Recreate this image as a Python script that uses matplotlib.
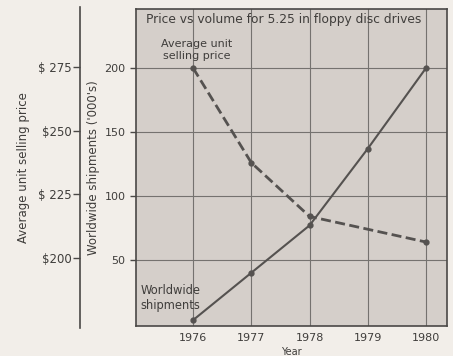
import matplotlib
matplotlib.use("Agg")
import matplotlib.pyplot as plt

years = [1976, 1977, 1978, 1979, 1980]
shipments = [3, 40, 77, 137, 200]          # thousands of units
price = [275, 238, 217, 212, 207]          # average unit selling price, $

ship_ticks = [50, 100, 150, 200]
price_ticks = [200, 225, 250, 275]
price_labels = ["$200", "$ 225", "$250", "$ 275"]

W, H = 453, 356
fig = plt.figure(figsize=(W / 100, H / 100), dpi=100)
fig.patch.set_facecolor("#f2eee9")

ink = "#555250"
txt = "#3f3d3b"
plt.rcParams["font.family"] = "DejaVu Sans"

# main plot box
L, R, T, B = 136, 447, 9, 326
ax = fig.add_axes([L / W, 1 - B / H, (R - L) / W, (B - T) / H])
ax.set_facecolor("#d5cfca")
ax.set_xlim(1975.02, 1980.36)
ax.set_ylim(-1.6, 246.1)
ax.set_xticks(years)
ax.set_xticklabels([str(y) for y in years])
ax.set_yticks(ship_ticks)
ax.set_yticklabels([str(t) for t in ship_ticks])
ax.grid(True, color="#75726f", lw=0.8)
ax.set_axisbelow(True)
for s in ax.spines.values():
    s.set_color("#4a4846")
    s.set_linewidth(1.2)
ax.tick_params(axis="both", colors="#4a4846", labelcolor=txt,
               labelsize=8, length=4, width=1)
ax.tick_params(axis="x", length=0, pad=5)
ax.set_xlabel("Year", fontsize=7, color=txt, labelpad=3)
ax.set_ylabel("Worldwide shipments ('000's)", fontsize=8.5, color=txt,
              labelpad=3)

ax.plot(years, shipments, color=ink, lw=1.5, marker="o", ms=3.5,
        solid_capstyle="round")

# price series on its own scale
ax2 = ax.twinx()
ax2.set_ylim(174.2, 298.05)
ax2.axis("off")
ax2.plot(years, price, color=ink, lw=2.0, dashes=(3.6, 1.6), marker="o",
         ms=3.5, markevery=[0, 1, 2, 4])

ax.text(0.476, 0.968, "Price vs volume for 5.25 in floppy disc drives",
        transform=ax.transAxes, ha="center", va="center", fontsize=8.8,
        color=txt)
ax.text(1976.06, 214, "Average unit\nselling price", ha="center",
        va="center", fontsize=8, color=txt, linespacing=1.3)
ax.text(1975.1, 20, "Worldwide\nshipments", ha="left", va="center",
        fontsize=8.3, color=txt, linespacing=1.2)

# separate price scale
pax = fig.add_axes([80 / W, 1 - 328 / H, 0.001, (328 - 7) / H])
pax.set_ylim(172.7, 298.4)
pax.patch.set_visible(False)
for k in ("top", "right", "bottom"):
    pax.spines[k].set_visible(False)
pax.spines["left"].set_color("#4a4846")
pax.spines["left"].set_linewidth(1.2)
pax.set_xticks([])
pax.set_yticks(price_ticks)
pax.set_yticklabels(price_labels)
pax.tick_params(axis="y", colors="#4a4846", labelcolor=txt,
                labelsize=8.5, length=5, width=1, pad=1)
pax.set_ylabel("Average unit selling price", fontsize=8.5, color=txt,
               labelpad=6)

fig.savefig("out.png", dpi=100, facecolor=fig.get_facecolor())
